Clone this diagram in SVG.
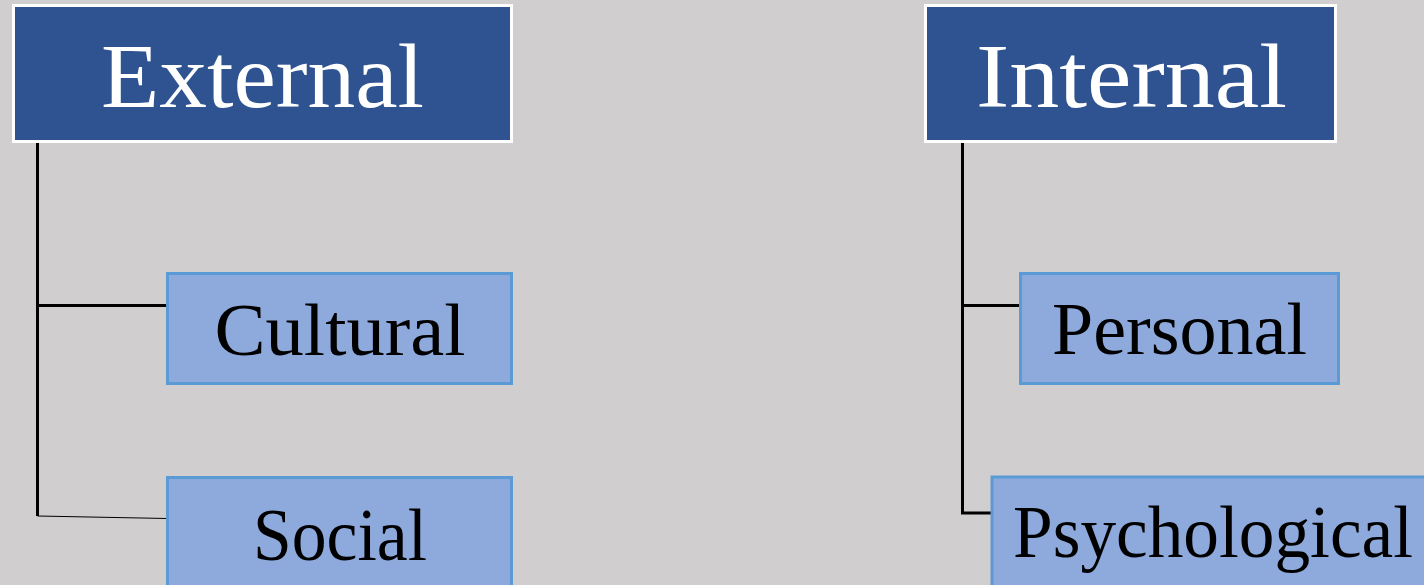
<svg xmlns="http://www.w3.org/2000/svg" width="1424" height="585" viewBox="0 0 1424 585">
  <style>
    .head { fill: #2f5290; stroke: #ffffff; stroke-width: 3; }
    .sub { fill: #8eaadc; stroke: #5b9bd5; stroke-width: 3; }
    .headtxt { font-family: "Liberation Serif", "DejaVu Serif", serif; font-size: 90px; fill: #ffffff; text-anchor: start; }
    .subtxt { font-family: "Liberation Serif", "DejaVu Serif", serif; font-size: 74px; fill: #000000; text-anchor: start; }
    .wire { fill: none; stroke: #000000; stroke-width: 3; }
    .thin { fill: none; stroke: #000000; stroke-width: 1.2; }
  </style>
  <rect width="1424" height="585" fill="#d0cece"/>

  <g id="connectors">
    <line class="wire" x1="37.5" y1="142" x2="37.5" y2="516"/>
    <line class="wire" x1="37.5" y1="305.5" x2="167" y2="305.5"/>
    <line class="thin" x1="37.5" y1="516" x2="167" y2="518.5"/>
    <polyline class="wire" points="962.5,142 962.5,513 992,513"/>
    <line class="wire" x1="962.5" y1="305.5" x2="1020" y2="305.5"/>
  </g>

  <g id="external">
    <rect class="head" x="13.5" y="5.5" width="498" height="136"/>
    <text class="headtxt" x="101" y="107" textLength="323" lengthAdjust="spacingAndGlyphs">External</text>
  </g>

  <g id="internal">
    <rect class="head" x="925.5" y="5.5" width="410" height="136"/>
    <text class="headtxt" x="976" y="107" textLength="311" lengthAdjust="spacingAndGlyphs">Internal</text>
  </g>

  <g id="cultural">
    <rect class="sub" x="167.5" y="273.5" width="344" height="110"/>
    <text class="subtxt" x="214.5" y="355" textLength="251" lengthAdjust="spacingAndGlyphs">Cultural</text>
  </g>

  <g id="social">
    <rect class="sub" x="167.5" y="477.5" width="344" height="120"/>
    <text class="subtxt" x="253" y="560" textLength="174" lengthAdjust="spacingAndGlyphs">Social</text>
  </g>

  <g id="personal">
    <rect class="sub" x="1020.5" y="273.5" width="318" height="110"/>
    <text class="subtxt" x="1052" y="354" textLength="255" lengthAdjust="spacingAndGlyphs">Personal</text>
  </g>

  <g id="psychological">
    <rect class="sub" x="992" y="477" width="440" height="120" stroke-width="2"/>
    <text class="subtxt" x="1013" y="557" textLength="400" lengthAdjust="spacingAndGlyphs">Psychological</text>
  </g>
</svg>
